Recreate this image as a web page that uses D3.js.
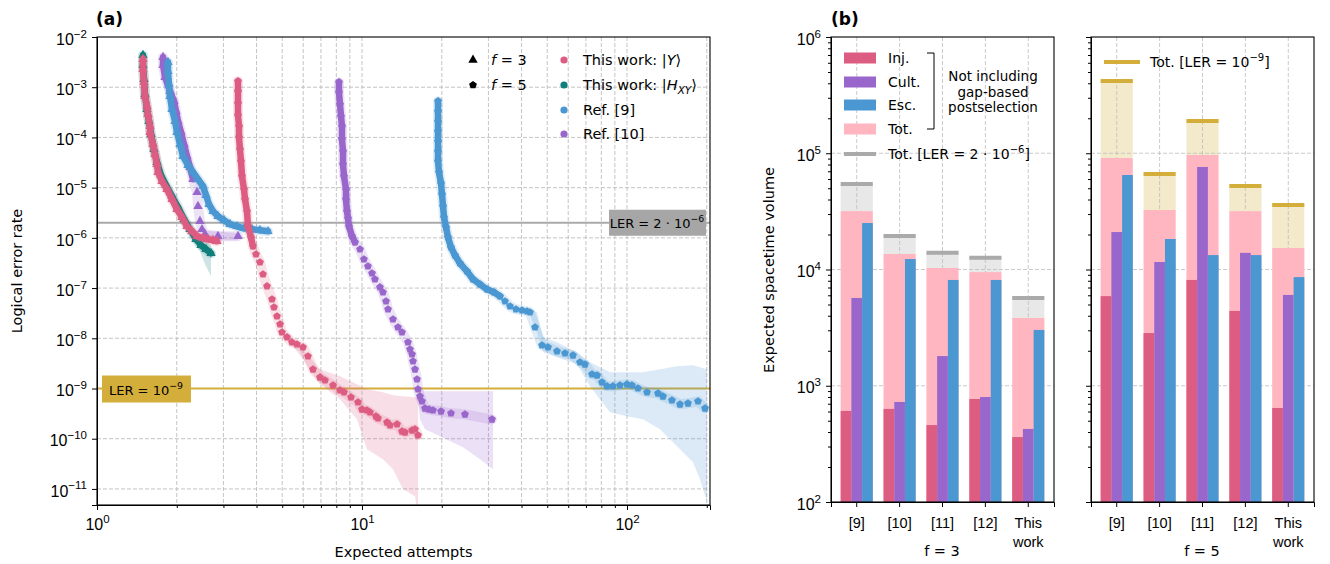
<!DOCTYPE html>
<html>
<head>
<meta charset="utf-8">
<script src="https://cdn.jsdelivr.net/npm/d3@7"></script>
<style>
body{margin:0;background:#fff;}
svg{font-family:"DejaVu Sans",sans-serif;}
</style>
</head>
<body>
<svg id="chart" width="1330" height="564"></svg>
<script>
// ---------- panel (a) data : [expected attempts, logical error rate] ----------
var f3Y = [[1.491,3.61e-3],[1.491,2.28e-3],[1.504,1.26e-3],[1.517,6.62e-4],[1.544,4.18e-4],[1.557,2.90e-4],[1.585,1.67e-4],[1.585,1.27e-4],[1.627,7.33e-5],[1.655,4.63e-5],[1.684,2.92e-5],[1.699,2.03e-5],[1.759,1.34e-5],[1.837,9.29e-6],[1.919,5.87e-6],[2.004,3.71e-6],[2.093,2.57e-6],[2.186,1.70e-6],[2.283,1.35e-6],[2.385,1.08e-6],[2.512,9.82e-7],[2.623,9.37e-7],[2.740,8.95e-7],[2.837,8.55e-7]];
var f3H = [[1.491,4.33e-3],[1.491,2.74e-3],[1.504,1.44e-3],[1.517,7.26e-4],[1.544,3.65e-4],[1.571,2.10e-4],[1.599,1.16e-4],[1.641,5.82e-5],[1.684,3.21e-5],[1.744,1.77e-5],[1.822,1.12e-5],[1.919,6.74e-6],[2.022,4.07e-6],[2.130,2.35e-6],[2.244,1.48e-6],[2.364,9.37e-7],[2.469,7.13e-7],[2.578,5.93e-7],[2.693,4.93e-7]];
var f3HBand = [[1.729,1.47e-5,2.33e-5],[2.022,3.39e-6,4.26e-6],[2.244,1.13e-6,1.87e-6],[2.447,5.41e-7,1.13e-6],[2.556,2.98e-7,8.95e-7],[2.693,1.72e-7,7.13e-7]];
var f3Ref9 = [[1.853,3.15e-3],[1.853,2.08e-3],[1.869,1.15e-3],[1.886,6.62e-4],[1.919,3.65e-4],[1.970,2.10e-4],[2.004,1.27e-4],[2.057,7.33e-5],[2.111,4.22e-5],[2.205,2.79e-5],[2.303,2.03e-5],[2.405,1.47e-5],[2.512,1.07e-5],[2.578,7.06e-6],[2.646,4.67e-6],[2.740,3.39e-6],[2.861,2.69e-6],[3.014,2.24e-6],[3.177,1.87e-6],[3.375,1.70e-6],[3.587,1.55e-6],[3.846,1.48e-6],[4.122,1.42e-6],[4.419,1.35e-6]];
var f3Ref10 = [[1.775,3.96e-3],[1.775,2.74e-3],[1.806,1.58e-3],[1.886,8.32e-4],[1.952,5.26e-4],[1.987,3.33e-4],[2.022,2.10e-4],[2.075,1.27e-4],[2.130,7.33e-5],[2.186,4.22e-5],[2.244,2.55e-5],[2.303,1.47e-5]];
var f3Ref10Tail = [[2.385,8.09e-6],[2.405,4.26e-6],[2.447,2.14e-6],[2.490,1.48e-6],[2.556,1.18e-6],[2.861,1.08e-6],[3.405,1.08e-6]];
var f3Ref10Band = [[2.49,9.0e-7,1.4e-6],[3.405,9.0e-7,1.25e-6]];

var f5Y = [[3.405,1.32e-3],[3.405,8.32e-4],[3.405,4.80e-4],[3.405,2.77e-4],[3.435,1.67e-4],[3.435,1.01e-4],[3.464,5.82e-5],[3.494,3.36e-5],[3.526,1.69e-5],[3.587,9.29e-6],[3.619,5.87e-6],[3.681,3.39e-6],[3.713,1.70e-6],[3.812,1.03e-6],[3.878,6.80e-7]];
var f5YTail = [[3.981,4.71e-7],[4.122,3.27e-7],[4.231,1.88e-7],[4.381,1.09e-7],[4.576,5.98e-8],[4.655,4.15e-8],[4.778,2.74e-8],[4.907,1.90e-8],[4.990,1.32e-8],[5.212,1.05e-8],[5.441,8.32e-9],[5.683,7.59e-9],[5.989,6.62e-9],[6.255,4.38e-9],[6.532,2.41e-9],[6.942,1.67e-9],[7.251,1.46e-9],[7.773,1.16e-9],[8.260,9.21e-10],[8.553,8.40e-10],[9.089,6.68e-10],[9.658,5.31e-10],[10.0,3.85e-10],[10.44,3.68e-10],[10.72,3.36e-10],[11.29,2.79e-10],[11.49,2.55e-10],[12.43,2.12e-10],[12.76,1.85e-10],[13.56,1.94e-10],[14.16,1.40e-10],[14.53,1.34e-10],[15.45,1.47e-10],[15.85,1.54e-10],[16.27,1.17e-10]];
var f5YBand = [[5.35,8.32e-9,1.10e-8],[5.989,3.82e-9,6.04e-9],[6.942,1.21e-9,2.41e-9],[8.260,6.09e-10,1.75e-9],[9.574,2.43e-10,1.21e-9],[10.44,6.15e-11,9.64e-10],[12.00,3.89e-11,8.40e-10],[13.09,2.46e-11,7.33e-10],[14.28,9.81e-12,6.99e-10],[15.85,7.12e-12,6.68e-10],[16.27,3e-12,6.68e-10]];
var f5Ref10 = [[8.189,1.26e-3],[8.189,7.95e-4],[8.260,4.58e-4],[8.332,2.64e-4],[8.405,1.67e-4],[8.405,9.21e-5],[8.479,5.31e-5],[8.479,2.92e-5],[8.553,1.69e-5],[8.702,9.29e-6],[8.702,5.87e-6],[8.779,3.39e-6],[8.855,2.45e-6],[8.932,1.70e-6],[9.169,1.08e-6],[9.410,8.17e-7]];
var f5Ref10Tail = [[9.829,5.93e-7],[10.17,3.75e-7],[10.53,2.72e-7],[10.91,1.97e-7],[11.19,1.50e-7],[11.69,1.04e-7],[12.00,8.24e-8],[12.32,5.46e-8],[12.54,3.78e-8],[13.09,2.39e-8],[13.67,1.66e-8],[14.16,1.32e-8],[14.91,8.32e-9],[15.18,6.04e-9],[15.45,4.80e-9],[15.58,3.48e-9],[15.85,2.41e-9],[16.13,1.53e-9],[16.27,9.64e-10],[16.55,6.99e-10],[16.84,5.56e-10],[17.29,4.03e-10],[17.90,3.85e-10],[18.53,3.68e-10],[19.87,3.51e-10],[21.67,3.21e-10],[24.47,3.06e-10],[30.94,2.43e-10]];
var f5Ref10Band = [[16.13,8.79e-10,1.67e-9],[16.55,2.43e-10,9.64e-10],[17.29,1.54e-10,8.79e-10],[19.70,1.12e-10,8.79e-10],[24.05,6.74e-11,8.79e-10],[27.88,3.89e-11,8.79e-10],[31.22,2.46e-11,8.79e-10]];
var f5Ref9 = [[19.36,5.26e-4],[19.36,3.33e-4],[19.36,2.10e-4],[19.36,1.33e-4],[19.36,8.40e-5],[19.36,5.31e-5],[19.36,3.36e-5],[19.53,2.03e-5],[19.87,1.22e-5],[20.04,7.39e-6],[20.22,4.26e-6],[20.39,2.57e-6],[20.75,1.63e-6],[21.11,1.03e-6],[21.67,6.50e-7],[22.43,4.50e-7],[23.43,3.12e-7],[24.90,2.16e-7],[26.24,1.50e-7],[27.88,1.19e-7],[29.63,9.46e-8],[31.48,8.24e-8],[33.18,6.87e-8]];
var f5Ref9Tail = [[34.65,5.46e-8],[36.19,4.34e-8],[38.11,3.78e-8],[40.16,3.61e-8],[41.95,3.45e-8],[43.05,3.30e-8],[44.96,1.66e-8],[47.78,7.26e-9],[50.35,6.62e-9],[54.42,5.51e-9],[58.34,5.03e-9],[62.55,4.58e-9],[66.46,3.33e-9],[69.42,3.03e-9],[73.79,1.92e-9],[77.07,1.83e-9],[80.49,1.33e-9],[84.05,1.11e-9],[88.55,1.11e-9],[94.10,1.16e-9],[100,1.21e-9],[104.4,1.16e-9],[110.0,1.01e-9],[119.0,8.40e-10],[130.9,8.02e-10],[136.7,6.99e-10],[147.8,5.82e-10],[158.5,4.84e-10],[169.9,5.07e-10],[185.3,5.56e-10],[197.0,4.03e-10]];
var f5Ref9Band = [[43.05,2.87e-8,3.78e-8],[45.75,1.32e-8,3.30e-8],[48.2,5.26e-9,1.05e-8],[54.42,4.19e-9,8.32e-9],[64.75,3.03e-9,5.26e-9],[72.53,1.11e-9,3.33e-9],[86.27,3.36e-10,2.10e-9],[100,2.79e-10,2.10e-9],[114.9,2.43e-10,2.10e-9],[133.2,1.54e-10,2.41e-9],[154.4,7.06e-11,2.77e-9],[177.5,3.39e-11,2.90e-9],[188.6,1.55e-11,2.64e-9],[200.5,5.41e-12,2.41e-9]];

var lerHigh = 2e-6, lerLow = 1e-9;
var xTicksA = [1, 10, 100];
var yTicksA = [1e-11,1e-10,1e-9,1e-8,1e-7,1e-6,1e-5,1e-4,1e-3,1e-2];

// ---------- panel (b) data ----------
var catsB = ["[9]", "[10]", "[11]", "[12]", "This work"];
var f3Inj  = [607, 632, 459, 769, 362];
var f3Cult = [5690, 725, 1800, 800, 425];
var f3Esc  = [25100, 12300, 8130, 8130, 3020];
var f3Tot  = [31800, 13600, 10300, 9500, 3830];
var f3TotLER = [54300, 19400, 13900, 12600, 5690];
var f5Inj  = [5900, 2840, 8130, 4400, 644];
var f5Cult = [21000, 11600, 76200, 13900, 6040];
var f5Esc  = [65000, 18300, 13300, 13300, 8600];
var f5Tot  = [91000, 32500, 96600, 31800, 15300];
var f5TotLER = [419000, 66400, 189000, 52200, 35900];
var yTicksB = [1e2, 1e3, 1e4, 1e5, 1e6];

// colours
var cPink = "#dd5c82", cPurple = "#9966cc", cBlue = "#4a97d2", cTeal = "#0f7f7c",
    cTot = "#ffb6c1", cGray = "#aaaaaa", cGold = "#d4ae3a";

var svg = d3.select("#chart");
var FS = 14.5, TFS = 16, LFS = 14;

// text with super/subscripts, offsets in px
function rich(t, parts, fs) {
  var shift = 0;
  parts.forEach(function(p) {
    var ts = t.append("tspan").text(p.t);
    var target = p.sup ? -0.45 * fs : (p.sub ? 0.25 * fs : 0);
    if (p.sup || p.sub) ts.attr("font-size", fs * 0.72);
    if (p.it) ts.attr("font-style", "italic");
    if (target - shift !== 0) ts.attr("dy", target - shift);
    shift = target;
  });
  return t;
}
function pow10(t, v) {
  var e = Math.round(Math.log10(v));
  t.text(null);
  rich(t, [{t:"10"}, {t:(e < 0 ? "\u2212" + (-e) : "" + e), sup:true}], TFS);
}

var pentagon = {
  draw: function(ctx, size) {
    var r = Math.sqrt(size / 2.3776);
    for (var i = 0; i < 5; i++) {
      var a = -Math.PI / 2 + i * 2 * Math.PI / 5;
      if (i === 0) ctx.moveTo(r * Math.cos(a), r * Math.sin(a));
      else ctx.lineTo(r * Math.cos(a), r * Math.sin(a));
    }
    ctx.closePath();
  }
};

// ================= panel (a) =================
var A = {left:97, right:710, top:37, bottom:505};
var x = d3.scaleLog().domain([1, 205.7]).range([A.left, A.right]);
var y = d3.scaleLog().domain([Math.pow(10, -11.32), 1e-2]).range([A.bottom, A.top]);

svg.append("clipPath").attr("id", "clipA").append("rect")
   .attr("x", A.left).attr("y", A.top).attr("width", A.right - A.left).attr("height", A.bottom - A.top);

var gA = svg.append("g");
var xMinor = [2,3,4,5,6,7,8,9,20,30,40,50,60,70,80,90,200];

// grid
gA.append("g").selectAll("line").data(xMinor.concat([10, 100])).join("line")
  .attr("x1", function(d){return x(d);}).attr("x2", function(d){return x(d);})
  .attr("y1", A.top).attr("y2", A.bottom)
  .attr("stroke", "#b5b5b5").attr("stroke-width", 0.8).attr("stroke-dasharray", "4,2");
gA.append("g").selectAll("line").data(yTicksA.slice(0, 9)).join("line")
  .attr("x1", A.left).attr("x2", A.right)
  .attr("y1", function(d){return y(d);}).attr("y2", function(d){return y(d);})
  .attr("stroke", "#b5b5b5").attr("stroke-width", 0.8).attr("stroke-dasharray", "4,2");

// threshold lines
gA.append("line").attr("x1", A.left).attr("x2", A.right).attr("y1", y(lerHigh)).attr("y2", y(lerHigh))
  .attr("stroke", cGray).attr("stroke-width", 2);
gA.append("line").attr("x1", A.left).attr("x2", A.right).attr("y1", y(lerLow)).attr("y2", y(lerLow))
  .attr("stroke", cGold).attr("stroke-width", 2);

var plotA = gA.append("g").attr("clip-path", "url(#clipA)");

var area = d3.area().x(function(d){return x(d[0]);}).y0(function(d){return y(d[1]);}).y1(function(d){return y(d[2]);});
[[f3HBand, cTeal], [f3Ref10Band, cPurple], [f5YBand, cPink], [f5Ref10Band, cPurple], [f5Ref9Band, cBlue]]
  .forEach(function(b) {
    plotA.append("path").datum(b[0]).attr("d", area).attr("fill", b[1]).attr("fill-opacity", 0.2);
  });

var line = d3.line().x(function(d){return x(d[0]);}).y(function(d){return y(d[1]);});

function drawSeries(core, tail, color, sym, size) {
  var all = core.concat(tail);
  plotA.append("path").datum(all).attr("d", line).attr("fill", "none")
    .attr("stroke", color).attr("stroke-opacity", 0.18).attr("stroke-width", 10)
    .attr("stroke-linejoin", "round").attr("stroke-linecap", "round");
  var segs = d3.pairs(core).filter(function(p) {
    return Math.hypot(x(p[0][0]) - x(p[1][0]), y(p[0][1]) - y(p[1][1])) <= 15.5;
  });
  plotA.append("g").selectAll("line").data(segs).join("line")
    .attr("x1", function(p){return x(p[0][0]);}).attr("y1", function(p){return y(p[0][1]);})
    .attr("x2", function(p){return x(p[1][0]);}).attr("y2", function(p){return y(p[1][1]);})
    .attr("stroke", color).attr("stroke-width", 6.5).attr("stroke-linecap", "round");
  plotA.append("g").selectAll("path").data(all).join("path")
    .attr("transform", function(d){return "translate(" + x(d[0]) + "," + y(d[1]) + ")";})
    .attr("d", d3.symbol(sym, size)).attr("fill", color);
}

drawSeries(f3Ref10, f3Ref10Tail, cPurple, d3.symbolTriangle, 38);
drawSeries(f3Ref9, [], cBlue, d3.symbolTriangle, 38);
drawSeries(f3H, [], cTeal, d3.symbolTriangle, 38);
drawSeries(f3Y, [], cPink, d3.symbolTriangle, 38);
drawSeries(f5Y, f5YTail, cPink, pentagon, 40);
drawSeries(f5Ref10, f5Ref10Tail, cPurple, pentagon, 40);
drawSeries(f5Ref9, f5Ref9Tail, cBlue, pentagon, 40);

// threshold labels
var BFS = 13;
gA.append("rect").attr("x", 609).attr("y", y(lerHigh) - 13).attr("width", 97).attr("height", 26).attr("fill", "#a6a6a6");
rich(gA.append("text").attr("x", 657).attr("y", y(lerHigh) + 5).attr("text-anchor", "middle").attr("font-size", BFS),
  [{t:"LER = 2 \u00b7 10"}, {t:"\u22126", sup:true}], BFS);
gA.append("rect").attr("x", 102).attr("y", y(lerLow) - 13).attr("width", 89).attr("height", 27).attr("fill", cGold);
rich(gA.append("text").attr("x", 146).attr("y", y(lerLow) + 6).attr("text-anchor", "middle").attr("font-size", BFS),
  [{t:"LER = 10"}, {t:"\u22129", sup:true}], BFS);

// axes a
var xAxA = gA.append("g").attr("transform", "translate(0," + A.bottom + ")")
  .call(d3.axisBottom(x).tickValues(xTicksA).tickSize(5).tickPadding(5).tickFormat(""));
xAxA.selectAll(".tick text").each(function(d){ pow10(d3.select(this), d); })
  .attr("font-size", TFS).attr("dy", "0.95em");
gA.append("g").attr("transform", "translate(0," + A.bottom + ")")
  .call(d3.axisBottom(x).tickValues(xMinor).tickSize(3).tickFormat(""))
  .select(".domain").remove();
var yAxA = gA.append("g").attr("transform", "translate(" + A.left + ",0)")
  .call(d3.axisLeft(y).tickValues(yTicksA).tickSize(5).tickPadding(5).tickFormat(""));
yAxA.selectAll(".tick text").each(function(d){ pow10(d3.select(this), d); })
  .attr("font-size", TFS).attr("dy", "0.45em");
svg.selectAll(".domain").attr("stroke", "#000");
gA.append("rect").attr("x", A.left).attr("y", A.top).attr("width", A.right - A.left).attr("height", A.bottom - A.top)
  .attr("fill", "none").attr("stroke", "#000").attr("stroke-width", 1.1);

gA.append("text").attr("x", (A.left + A.right) / 2).attr("y", 557).attr("text-anchor", "middle")
  .attr("font-size", FS).text("Expected attempts");
gA.append("text").attr("transform", "translate(22," + ((A.top + A.bottom) / 2) + ") rotate(-90)")
  .attr("text-anchor", "middle").attr("font-size", FS).text("Logical error rate");
gA.append("text").attr("x", 96).attr("y", 25).attr("font-size", 17).attr("font-weight", "bold").text("(a)");

// legend a
var legA = gA.append("g").attr("font-size", FS);
legA.append("path").attr("transform", "translate(473,60)").attr("d", d3.symbol(d3.symbolTriangle, 38)).attr("fill", "#000");
legA.append("path").attr("transform", "translate(473,85)").attr("d", d3.symbol(pentagon, 40)).attr("fill", "#000");
rich(legA.append("text").attr("x", 491).attr("y", 65), [{t:"f", it:true}, {t:" = 3"}], FS);
rich(legA.append("text").attr("x", 491).attr("y", 90), [{t:"f", it:true}, {t:" = 5"}], FS);
var legRows = [
  {c:cPink, y:60, parts:[{t:"This work: |"}, {t:"Y", it:true}, {t:"\u27e9"}]},
  {c:cTeal, y:85, parts:[{t:"This work: |"}, {t:"H", it:true}, {t:"XY", it:true, sub:true}, {t:"\u27e9"}]},
  {c:cBlue, y:110, parts:[{t:"Ref. [9]"}]},
  {c:cPurple, y:134, parts:[{t:"Ref. [10]"}]}
];
legRows.forEach(function(r) {
  legA.append("circle").attr("cx", 564).attr("cy", r.y).attr("r", 3.6).attr("fill", r.c);
  rich(legA.append("text").attr("x", 583).attr("y", r.y + 5), r.parts, FS);
});

// ================= panel (b) =================
var B = {top:37, bottom:502};
var yB = d3.scaleLog().domain([1e2, 1e6]).range([B.bottom, B.top]);
var yMinorB = [];
[1e2, 1e3, 1e4, 1e5].forEach(function(d){ for (var k = 2; k <= 9; k++) yMinorB.push(d * k); });

function drawPanel(x0, x1, inj, cult, esc, tot, totLER, bandFill, lineCol, showLabels) {
  var xs = d3.scaleBand().domain(catsB).range([x0, x1]).paddingInner(0).paddingOuter(0.1);
  var st = xs.step();
  var g = svg.append("g");
  var left = function(i){ return xs(catsB[i]) + st * 0.125; };

  // upper band (LER-target total)
  g.append("g").selectAll("rect").data(totLER).join("rect")
    .attr("x", function(d, i){return left(i);}).attr("width", st * 0.75)
    .attr("y", function(d){return yB(d);}).attr("height", function(d, i){return yB(tot[i]) - yB(d);})
    .attr("fill", bandFill);

  // grid
  g.append("g").selectAll("line").data(catsB).join("line")
    .attr("x1", function(c){return xs(c) + st / 2;}).attr("x2", function(c){return xs(c) + st / 2;})
    .attr("y1", B.top).attr("y2", B.bottom)
    .attr("stroke", "#bdbdbd").attr("stroke-width", 0.8).attr("stroke-dasharray", "4,2");
  g.append("g").selectAll("line").data([1e3, 1e4, 1e5]).join("line")
    .attr("x1", x0).attr("x2", x1).attr("y1", function(d){return yB(d);}).attr("y2", function(d){return yB(d);})
    .attr("stroke", "#bdbdbd").attr("stroke-width", 0.8).attr("stroke-dasharray", "4,2");

  g.append("g").selectAll("rect").data(tot).join("rect")
    .attr("x", function(d, i){return left(i);}).attr("width", st * 0.75)
    .attr("y", function(d){return yB(d);}).attr("height", function(d){return B.bottom - yB(d);})
    .attr("fill", cTot);
  [[inj, cPink], [cult, cPurple], [esc, cBlue]].forEach(function(s, k) {
    g.append("g").selectAll("rect").data(s[0]).join("rect")
      .attr("x", function(d, i){return left(i) + k * st * 0.25;}).attr("width", st * 0.25)
      .attr("y", function(d){return yB(d);}).attr("height", function(d){return B.bottom - yB(d);})
      .attr("fill", s[1]);
  });
  g.append("g").selectAll("line").data(totLER).join("line")
    .attr("x1", function(d, i){return left(i);}).attr("x2", function(d, i){return left(i) + st * 0.75;})
    .attr("y1", function(d){return yB(d);}).attr("y2", function(d){return yB(d);})
    .attr("stroke", lineCol).attr("stroke-width", 4);

  // axes
  var xa = g.append("g").attr("transform", "translate(0," + B.bottom + ")")
    .call(d3.axisBottom(xs).tickSize(5).tickFormat(""));
  xa.selectAll(".tick text").each(function(c) {
    var t = d3.select(this).attr("font-size", FS).attr("y", 0).attr("dy", null);
    var words = c === "This work" ? ["This", "work"] : [c];
    words.forEach(function(w, j) {
      t.append("tspan").attr("x", 0).attr("y", 26 + j * 19).text(w);
    });
  });
  var ya = g.append("g").attr("transform", "translate(" + x0 + ",0)")
    .call(d3.axisLeft(yB).tickValues(yTicksB).tickSize(5).tickPadding(5).tickFormat(""));
  if (showLabels) {
    ya.selectAll(".tick text").each(function(d){ pow10(d3.select(this), d); })
      .attr("font-size", TFS).attr("dy", "0.45em");
  }
  g.append("g").attr("transform", "translate(" + x0 + ",0)")
    .call(d3.axisLeft(yB).tickValues(yMinorB).tickSize(3).tickFormat(""))
    .select(".domain").remove();
  g.selectAll(".domain").attr("stroke", "#000");
  g.append("rect").attr("x", x0).attr("y", B.top).attr("width", x1 - x0).attr("height", B.bottom - B.top)
    .attr("fill", "none").attr("stroke", "#000").attr("stroke-width", 1.1);
  return g;
}

var g3 = drawPanel(831, 1054, f3Inj, f3Cult, f3Esc, f3Tot, f3TotLER, "#e8e8e8", cGray, true);
var g5 = drawPanel(1091, 1314, f5Inj, f5Cult, f5Esc, f5Tot, f5TotLER, "#f3eacb", cGold, false);

g3.append("text").attr("x", 942).attr("y", 556).attr("text-anchor", "middle").attr("font-size", FS).text("f = 3");
g5.append("text").attr("x", 1202).attr("y", 556).attr("text-anchor", "middle").attr("font-size", FS).text("f = 5");
svg.append("text").attr("transform", "translate(774,270) rotate(-90)").attr("text-anchor", "middle")
  .attr("font-size", FS).text("Expected spacetime volume");
svg.append("text").attr("x", 831).attr("y", 25).attr("font-size", 17).attr("font-weight", "bold").text("(b)");

// legend b (left)
var legB = svg.append("g").attr("font-size", LFS);
[["Inj.", cPink, 58], ["Cult.", cPurple, 82], ["Esc.", cBlue, 105], ["Tot.", cTot, 129]].forEach(function(r) {
  legB.append("rect").attr("x", 844).attr("y", r[2] - 5.5).attr("width", 32).attr("height", 11).attr("fill", r[1]);
  legB.append("text").attr("x", 888).attr("y", r[2] + 5).text(r[0]);
});
legB.append("line").attr("x1", 844).attr("x2", 876).attr("y1", 154).attr("y2", 154).attr("stroke", cGray).attr("stroke-width", 4);
rich(legB.append("text").attr("x", 888).attr("y", 159), [{t:"Tot. [LER = 2 \u00b7 10"}, {t:"\u22126", sup:true}, {t:"]"}], LFS);
legB.append("path").attr("d", "M927,53H934V129H927").attr("fill", "none").attr("stroke", "#000").attr("stroke-width", 1);
["Not including", "gap-based", "postselection"].forEach(function(s, i) {
  legB.append("text").attr("x", 993).attr("y", 81 + i * 15.5).attr("text-anchor", "middle").attr("font-size", 13.5).text(s);
});
// legend b (right)
legB.append("line").attr("x1", 1104).attr("x2", 1140).attr("y1", 62).attr("y2", 62).attr("stroke", cGold).attr("stroke-width", 4);
rich(legB.append("text").attr("x", 1150).attr("y", 67), [{t:"Tot. [LER = 10"}, {t:"\u22129", sup:true}, {t:"]"}], LFS);
</script>
</body>
</html>
